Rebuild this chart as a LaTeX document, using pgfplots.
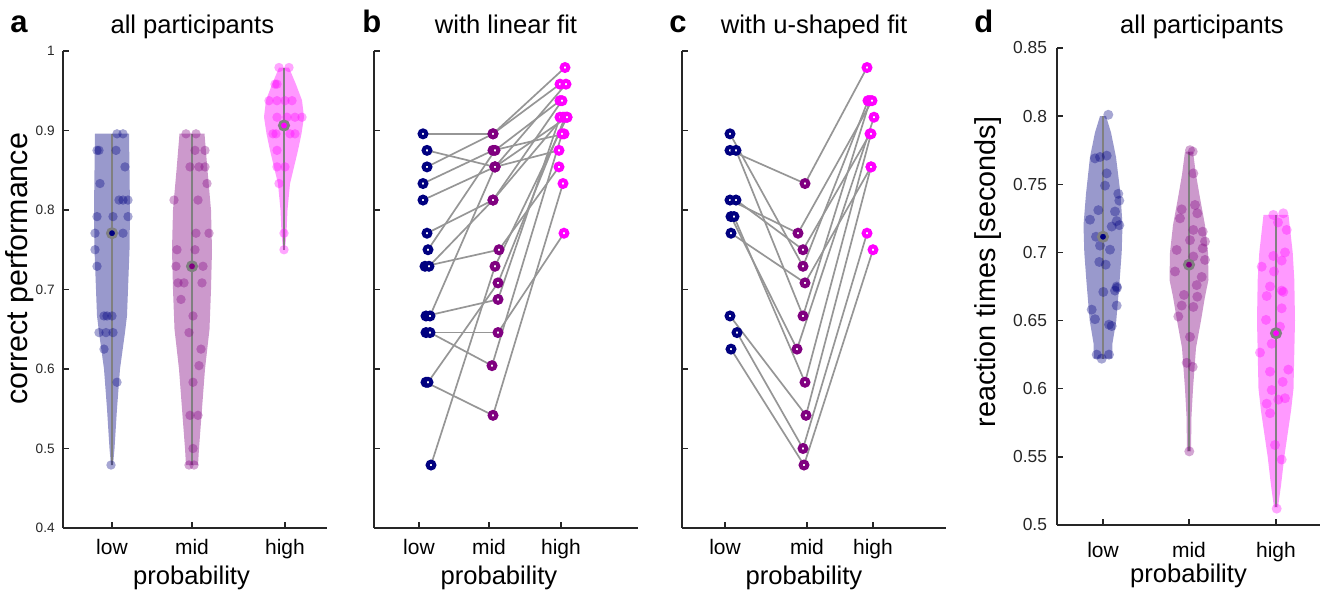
\documentclass[border=0pt]{standalone}
\usepackage{fontspec}
\setmainfont{Liberation Sans}
\usepackage{pgfplots}
\pgfplotsset{compat=1.18}
\usepackage{pgfplotstable}
\definecolor{cLow}{RGB}{0,0,128}
\definecolor{cMid}{RGB}{128,0,128}
\definecolor{cHigh}{RGB}{255,0,255}
\definecolor{axgray}{RGB}{38,38,38}
\definecolor{lgray}{RGB}{150,150,150}
\definecolor{mgray}{RGB}{128,128,128}

% panel b: one row per participant (x in reference pixel units, y = correct performance)
\pgfplotstableread{
xl yl xm ym xh yh
423 0.8958 493 0.8958 565 0.9792
427 0.8750 495 0.8542 559 0.8750
427 0.8542 493 0.8958 560 0.9583
423 0.8333 493 0.8750 564 0.8958
423 0.8125 495 0.8542 567 0.9167
427 0.7708 493 0.8125 563 0.9167
428 0.7500 495 0.8750 560 0.9375
425 0.7292 499 0.7500 559 0.8542
429 0.7292 493 0.8125 562 0.9375
426 0.6667 498 0.6875 560 0.9167
430 0.6667 495 0.8542 566 0.9583
426 0.6458 498 0.6458 564 0.7708
430 0.6458 492 0.6042 562 0.8958
426 0.5833 493 0.5417 563 0.8333
428 0.5833 498 0.7083 565 0.9167
431 0.4792 495 0.7292 567 0.9167
}\tabB
% panel c
\pgfplotstableread{
xl yl xm ym xh yh
730 0.8958 803 0.7292 868 0.9375
730 0.8750 805 0.8333 867 0.9792
736 0.8750 803 0.6667 870 0.9375
730 0.8125 798 0.7708 872 0.9375
736 0.8125 803 0.7500 870 0.8958
731 0.7917 797 0.6250 874 0.9167
734 0.7917 805 0.5833 871 0.8958
731 0.7708 805 0.7083 871 0.8542
730 0.6667 806 0.5417 871 0.8542
737 0.6458 803 0.5000 867 0.7708
731 0.6250 804 0.4792 873 0.7500
}\tabC

\pgfplotsset{
  panel/.style={
    scale only axis, width=132pt, height=238.5pt,
    axis x line*=bottom, axis y line*=left,
    axis line style={-, axgray, line width=0.75pt},
    tick style={axgray, line width=0.75pt},
    tick align=inside, major tick length=3pt,
    /pgf/number format/assume math mode=true,
    xticklabel style={font=\fontsize{10.5}{12}\selectfont, text=black, anchor=base, inner sep=0pt, yshift=-13.5pt},
    yticklabel style={font=\fontsize{6.8}{8}\selectfont, text=axgray, anchor=east, inner sep=0pt, xshift=-4pt},
    title style={font=\fontsize{12.8}{14}\selectfont, anchor=base, inner sep=0pt},
    xlabel style={font=\fontsize{12.8}{14}\selectfont, anchor=base, inner sep=0pt},
    ylabel style={font=\fontsize{15.2}{17}\selectfont, anchor=base, inner sep=0pt},
    clip=false,
  },
  violin/.style={draw=none, fill=#1, fill opacity=0.4},
  dots/.style={#1, only marks, mark=*, mark size=2.35pt, mark options={fill=#1, fill opacity=0.35, draw opacity=0}},
  meanmark/.style={only marks, mark=*, mark size=2.3pt, mark options={draw=mgray, line width=1.4pt, fill=#1}},
  ring/.style={#1, only marks, mark=*, mark size=1.7pt, mark options={draw=#1, fill=white, line width=2pt}},
}

\begin{document}
\begin{tikzpicture}
\path[use as bounding box] (0,0) rectangle (662pt,296pt);

% ---------------- panel a ----------------
\begin{axis}[panel, at={(31.5pt,32pt)}, anchor=south west,
  xmin=63, xmax=327, ymin=0.4, ymax=1,
  xtick={112,192,285}, xticklabels={low,mid,high},
  ytick={0.4,0.5,0.6,0.7,0.8,0.9,1},
  title={all participants}, title style={at={(axis description cs:0.49,1)}, yshift=2.7pt},
  xlabel={probability}, xlabel style={at={(axis description cs:0.487,0)}, yshift=-28.5pt},
  ylabel={correct performance}, ylabel style={at={(axis description cs:-0.1326,0.543)}},
]
\addplot[violin=cLow] coordinates {(113,0.479)(114.5,0.5)(117,0.55)(120,0.6)(125,0.646)(127,0.667)(128,0.7)(129.5,0.75)(130,0.8)(129.5,0.85)(129,0.896)(95,0.896)(94.5,0.85)(94,0.8)(94.5,0.75)(96,0.7)(97,0.667)(99,0.646)(104,0.6)(107,0.55)(109.5,0.5)(111,0.479)} -- cycle;
\addplot[violin=cMid] coordinates {(198,0.479)(199,0.5)(202,0.55)(205,0.6)(209.5,0.65)(211,0.7)(212,0.75)(211,0.8)(207.5,0.85)(204.5,0.896)(179.5,0.896)(176.5,0.85)(173,0.8)(172,0.75)(173,0.7)(174.5,0.65)(179,0.6)(182,0.55)(185,0.5)(186,0.479)} -- cycle;
\addplot[violin=cHigh] coordinates {(285,0.75)(286.5,0.771)(287.5,0.8)(290,0.833)(294,0.854)(298,0.875)(301.5,0.896)(304,0.917)(302,0.938)(296,0.958)(289,0.979)(279,0.979)(272,0.958)(266,0.938)(264,0.917)(266.5,0.896)(270,0.875)(274,0.854)(278,0.833)(280.5,0.8)(281.5,0.771)(283,0.75)} -- cycle;
\addplot[dots=cLow] coordinates {(117,0.8958)(123,0.8958)(97,0.875)(99,0.875)(116,0.875)(125,0.8542)(100,0.8333)(119,0.8125)(123,0.8125)(128,0.8125)(97,0.7917)(113,0.7917)(128,0.7917)(95,0.7708)(123,0.7708)(95,0.75)(97,0.7292)(104,0.6667)(107,0.6667)(112,0.6667)(99,0.6458)(106,0.6458)(113,0.6458)(104,0.625)(117,0.5833)(111,0.4792)};
\addplot[dots=cMid] coordinates {(186,0.8958)(196,0.8958)(195,0.875)(205,0.875)(190,0.8542)(199,0.8542)(205,0.8542)(207,0.8333)(174,0.8125)(198,0.8125)(196,0.7708)(209,0.7708)(177,0.75)(195,0.75)(176,0.7292)(203,0.7292)(178,0.7083)(184,0.7083)(202,0.7083)(181,0.6875)(193,0.6667)(189,0.6458)(201,0.625)(199,0.6042)(193,0.5833)(190,0.5417)(198,0.5417)(193,0.5)(189,0.4792)(194,0.4792)};
\addplot[dots=cHigh] coordinates {(279,0.9792)(289,0.9792)(275,0.9583)(277,0.9583)(269,0.9375)(277,0.9375)(285,0.9375)(292,0.9375)(277,0.9167)(287,0.9167)(295,0.9167)(302,0.9167)(273,0.8958)(276,0.8958)(290,0.8958)(295,0.8958)(277,0.875)(277,0.8542)(285,0.8542)(279,0.8333)(284,0.7708)(284,0.75)};
\addplot[mgray, line width=0.7pt] coordinates {(112,0.4792)(112,0.8958)};
\addplot[mgray, line width=1.3pt] coordinates {(112,0.6458)(112,0.8333)};
\addplot[mgray, line width=0.7pt] coordinates {(192,0.4792)(192,0.8958)};
\addplot[mgray, line width=1.3pt] coordinates {(192,0.6042)(192,0.8333)};
\addplot[mgray, line width=0.7pt] coordinates {(284,0.75)(284,0.9792)};
\addplot[mgray, line width=1.3pt] coordinates {(284,0.8542)(284,0.9375)};
\addplot[meanmark=cLow] coordinates {(112,0.7708)};
\addplot[meanmark=cMid] coordinates {(192,0.7292)};
\addplot[meanmark=cHigh] coordinates {(284,0.9063)};
\end{axis}

% ---------------- panel b ----------------
\begin{axis}[panel, at={(187pt,32pt)}, anchor=south west,
  xmin=374, xmax=638, ymin=0.4, ymax=1,
  xtick={419,489,561}, xticklabels={low,mid,high},
  ytick={0.4,0.5,0.6,0.7,0.8,0.9,1}, yticklabels={},
  title={with linear fit}, title style={at={(axis description cs:0.5,1)}, yshift=2.7pt},
  xlabel={probability}, xlabel style={at={(axis description cs:0.473,0)}, yshift=-28.5pt},
]
\addplot[lgray, line width=0.85pt, no marks, quiver={u=\thisrow{xm}-\thisrow{xl}, v=\thisrow{ym}-\thisrow{yl}}] table[x=xl, y=yl] {\tabB};
\addplot[lgray, line width=0.85pt, no marks, quiver={u=\thisrow{xh}-\thisrow{xm}, v=\thisrow{yh}-\thisrow{ym}}] table[x=xm, y=ym] {\tabB};
\addplot[ring=cLow] table[x=xl, y=yl] {\tabB};
\addplot[ring=cMid] table[x=xm, y=ym] {\tabB};
\addplot[ring=cHigh] table[x=xh, y=yh] {\tabB};
\end{axis}

% ---------------- panel c ----------------
\begin{axis}[panel, at={(341pt,32pt)}, anchor=south west,
  xmin=682, xmax=946, ymin=0.4, ymax=1,
  xtick={725,807,873}, xticklabels={low,mid,high},
  ytick={0.4,0.5,0.6,0.7,0.8,0.9,1}, yticklabels={},
  title={with u-shaped fit}, title style={at={(axis description cs:0.5,1)}, yshift=2.7pt},
  xlabel={probability}, xlabel style={at={(axis description cs:0.462,0)}, yshift=-28.5pt},
]
\addplot[lgray, line width=0.85pt, no marks, quiver={u=\thisrow{xm}-\thisrow{xl}, v=\thisrow{ym}-\thisrow{yl}}] table[x=xl, y=yl] {\tabC};
\addplot[lgray, line width=0.85pt, no marks, quiver={u=\thisrow{xh}-\thisrow{xm}, v=\thisrow{yh}-\thisrow{ym}}] table[x=xm, y=ym] {\tabC};
\addplot[ring=cLow] table[x=xl, y=yl] {\tabC};
\addplot[ring=cMid] table[x=xm, y=ym] {\tabC};
\addplot[ring=cHigh] table[x=xh, y=yh] {\tabC};
\end{axis}

% ---------------- panel d ----------------
\begin{axis}[panel, at={(528.5pt,33.5pt)}, anchor=south west, width=131.5pt,
  xmin=1057, xmax=1320, ymin=0.5, ymax=0.85,
  xtick={1103,1189,1276}, xticklabels={low,mid,high},
  xticklabel style={yshift=-3pt},
  ytick={0.5,0.55,0.6,0.65,0.7,0.75,0.8,0.85},
  yticklabel style={font=\fontsize{8.7}{10}\selectfont, xshift=-0.8pt},
  title={all participants}, title style={at={(axis description cs:0.551,1)}, yshift=1.2pt},
  xlabel={probability}, xlabel style={at={(axis description cs:0.5,0)}, yshift=-28.8pt},
  ylabel={reaction times [seconds]}, ylabel style={font=\fontsize{14.4}{16}\selectfont, at={(axis description cs:-0.2357,0.53)}},
]
\addplot[violin=cLow] coordinates {(1112,0.622)(1112.5,0.6335)(1116.3,0.65)(1119.7,0.68)(1121.7,0.70)(1122.5,0.72)(1120.5,0.743)(1116,0.77)(1111,0.788)(1106,0.8)(1100,0.8)(1095,0.788)(1090,0.77)(1086,0.743)(1083.5,0.72)(1084.3,0.70)(1086.3,0.68)(1089.7,0.65)(1093.5,0.6335)(1094,0.622)} -- cycle;
\addplot[violin=cMid] coordinates {(1191,0.554)(1191.5,0.58)(1193,0.6)(1196,0.63)(1201,0.65)(1205,0.6675)(1208.5,0.68)(1208,0.70)(1205,0.72)(1200,0.74)(1196,0.757)(1193,0.774)(1185,0.774)(1182,0.757)(1178,0.74)(1173,0.72)(1170,0.70)(1169.5,0.68)(1173,0.6675)(1177,0.65)(1182,0.63)(1185,0.6)(1186.5,0.58)(1187,0.554)} -- cycle;
\addplot[violin=cHigh] coordinates {(1278,0.513)(1281,0.529)(1284.3,0.55)(1291,0.5837)(1293.5,0.6)(1295,0.65)(1294.3,0.68)(1292.7,0.70)(1288.5,0.7275)(1263.5,0.7275)(1259.3,0.70)(1257.7,0.68)(1257,0.65)(1258.5,0.6)(1261,0.5837)(1267.7,0.55)(1271,0.529)(1274,0.513)} -- cycle;
\addplot[dots=cLow, mark size=2.5pt] coordinates {(1108.3,0.801)(1095,0.769)(1100,0.770)(1106.7,0.771)(1106.7,0.758)(1105,0.749)(1118.3,0.743)(1119.3,0.738)(1098.3,0.731)(1115,0.730)(1090,0.724)(1116.7,0.723)(1119.3,0.720)(1111.7,0.719)(1096,0.7115)(1100,0.705)(1110,0.702)(1099.3,0.693)(1105.7,0.691)(1116.7,0.675)(1103.3,0.671)(1115,0.672)(1117,0.674)(1116.7,0.661)(1091.7,0.658)(1095,0.651)(1111.7,0.646)(1109,0.647)(1096.7,0.625)(1101.7,0.622)(1109,0.625)};
\addplot[dots=cMid, mark size=2.5pt] coordinates {(1190,0.775)(1192.7,0.774)(1193.3,0.758)(1181.7,0.7316)(1195,0.7348)(1197.3,0.7287)(1180,0.725)(1193.3,0.7165)(1202.7,0.7152)(1190,0.709)(1205,0.708)(1176.7,0.7018)(1202.7,0.703)(1193.3,0.697)(1205,0.6945)(1175,0.686)(1201.7,0.682)(1196.7,0.676)(1184,0.6688)(1197.3,0.6675)(1181.7,0.661)(1193.3,0.66)(1178.3,0.653)(1190,0.638)(1186.7,0.619)(1192.7,0.616)(1189.3,0.554)};
\addplot[dots=cHigh, mark size=2.5pt] coordinates {(1273.3,0.7275)(1283.3,0.7287)(1278,0.722)(1286.7,0.7165)(1261.7,0.6895)(1273.3,0.6974)(1285,0.70)(1281.7,0.694)(1274,0.686)(1270,0.675)(1281.7,0.672)(1266.7,0.668)(1283.3,0.671)(1281.7,0.659)(1266,0.6505)(1280,0.6455)(1260,0.6265)(1271.7,0.633)(1270,0.6125)(1288.3,0.614)(1282.7,0.605)(1271.7,0.599)(1285,0.593)(1278.3,0.592)(1266.7,0.589)(1270,0.582)(1275,0.5587)(1281.7,0.548)(1276.7,0.512)};
\addplot[mgray, line width=0.9pt] coordinates {(1103,0.622)(1103,0.80)};
\addplot[mgray, line width=0.9pt] coordinates {(1189,0.554)(1189,0.774)};
\addplot[mgray, line width=0.9pt] coordinates {(1276,0.513)(1276,0.7275)};
\addplot[meanmark=cLow] coordinates {(1103,0.7115)};
\addplot[meanmark=cMid] coordinates {(1189,0.691)};
\addplot[meanmark=cHigh] coordinates {(1276,0.6407)};
\end{axis}

% panel letters
\node[anchor=base west, inner sep=0pt, font=\fontsize{15.5}{17}\bfseries] at (5pt,279.5pt) {a};
\node[anchor=base west, inner sep=0pt, font=\fontsize{15.5}{17}\bfseries] at (181pt,279.5pt) {b};
\node[anchor=base west, inner sep=0pt, font=\fontsize{15.5}{17}\bfseries] at (334.5pt,279.5pt) {c};
\node[anchor=base west, inner sep=0pt, font=\fontsize{15.5}{17}\bfseries] at (487pt,279.5pt) {d};
\end{tikzpicture}
\end{document}
